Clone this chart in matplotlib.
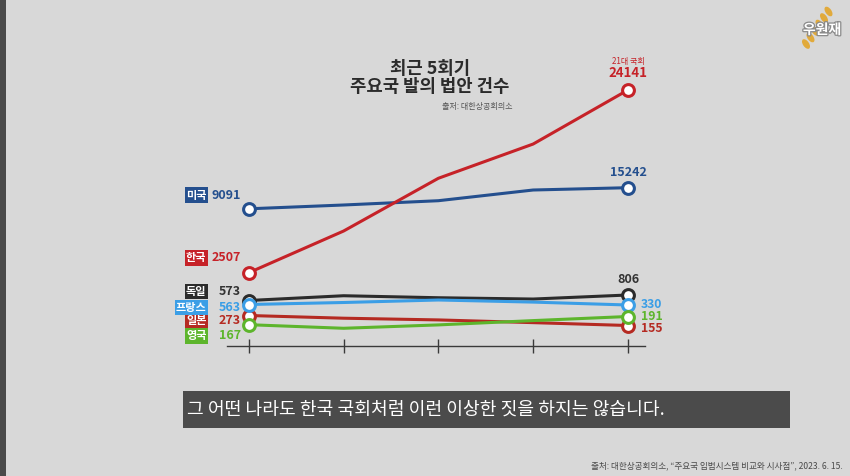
import numpy as np
import matplotlib
matplotlib.use("Agg")
import matplotlib.pyplot as plt
from matplotlib.patches import Rectangle, Ellipse
import matplotlib.patheffects as pe

plt.rcParams['font.family'] = ['Noto Sans CJK KR', 'DejaVu Sans']

# 최근 5회기 (x축: 회기 순서)
sessions = [0, 1, 2, 3, 4]

countries = ['미국', '한국', '독일', '일본', '프랑스', '영국']
us = [9091, 10200, 11450, 14570, 15242]
korea = [2507, 6800, 16100, 19220, 24141]
germany = [573, 775, 690, 635, 806]
japan = [273, 186, 181, 173, 155]
france = [563, 568, 594, 569, 330]
uk = [167, 134, 164, 179, 191]

# 원본 인포그래픽은 비례척이 아님 -> 구간별 선형 눈금
scale_vals = [0, 155, 167, 191, 273, 330, 563, 573, 806, 2507, 9091, 15242, 24141, 32000]
scale_h = [0, 20.5, 21.3, 29.5, 30.5, 41, 41.5, 45.5, 51, 73.3, 137.2, 158.3, 256, 342]


def fwd(v):
    return np.interp(v, scale_vals, scale_h)


def inv(h):
    return np.interp(h, scale_h, scale_vals)


series = {'미국': us, '한국': korea, '독일': germany, '일본': japan, '프랑스': france, '영국': uk}
colors = {'미국': '#244f8e', '한국': '#c62228', '독일': '#2b2b2b',
          '일본': '#b52a22', '프랑스': '#3b9ee6', '영국': '#5db52c'}
# 왼쪽 라벨 세로 위치 (pt)
left_dy = {'미국': 9.9, '한국': 10.6, '독일': 6.5, '프랑스': -2.0, '일본': -3.6, '영국': -8.1}
num_colors = {'미국': '#244f8e', '한국': '#c62228', '독일': '#333333',
              '일본': '#b52a22', '프랑스': '#3b9ee6', '영국': '#5db52c'}

fig = plt.figure(figsize=(8.5, 4.76), dpi=100)
fig.patch.set_facecolor('#d8d8d8')

# 배경 장식용 축 (픽셀 좌표)
deco = fig.add_axes([0, 0, 1, 1], zorder=0)
deco.set_xlim(0, 850)
deco.set_ylim(476, 0)
deco.axis('off')
deco.add_patch(Rectangle((0, 0), 6, 476, fc='#4a4a4a', ec='none'))
deco.add_patch(Rectangle((183, 391), 607, 37, fc='#4b4b4b', ec='none'))
deco.text(426, 410, '그 어떤 나라도 한국 국회처럼 이런 이상한 짓을 하지는 않습니다.',
          ha='center', va='center', color='white', fontsize=13.1)
deco.text(843, 466, '출처: 대한상공회의소, “주요국 입법시스템 비교와 시사점”, 2023. 6. 15.',
          ha='right', va='center', color='#4a4a4a', fontsize=6.2)
# 로고
for k in range(6):
    deco.add_patch(Ellipse((806 + k * 4.5, 44 - k * 6.5), 6, 11, angle=-35,
                           fc='#e3a52a', ec='none', alpha=0.9))
deco.text(822, 30, '우원재', ha='center', va='center', color='white', fontsize=10,
          weight='bold', path_effects=[pe.withStroke(linewidth=1.8, foreground='#8a8a8a')])

# 제목
fig.text(430 / 850, 1 - 69 / 476, '최근 5회기', ha='center', va='center',
         fontsize=12.8, weight='bold', color='#2b2b2b')
fig.text(430 / 850, 1 - 87 / 476, '주요국 발의 법안 건수', ha='center', va='center',
         fontsize=12.8, weight='bold', color='#2b2b2b')
fig.text(513 / 850, 1 - 107 / 476, '출처: 대한상공회의소', ha='right', va='center',
         fontsize=5.8, color='#555555')

ax = fig.add_axes([227 / 850, 130 / 476, 418 / 850, 300 / 476], zorder=1)
ax.patch.set_alpha(0)
ax.set_yscale('function', functions=(fwd, inv))
ax.set_ylim(0, inv(300))
ax.set_xlim(-0.23, 4.18)
for s in ['top', 'left', 'right']:
    ax.spines[s].set_visible(False)
ax.spines['bottom'].set_color('#3a3a3a')
ax.spines['bottom'].set_linewidth(1.0)
ax.set_xticks(sessions)
ax.tick_params(axis='x', direction='inout', length=10, width=1, color='#3a3a3a', labelbottom=False)
ax.set_yticks([])
ax.minorticks_off()

order = ['독일', '일본', '프랑스', '영국', '미국', '한국']
for name in order:
    c = colors[name]
    ax.plot(sessions, series[name], color=c, lw=2.2, marker='o', markevery=[0, 4],
            ms=8.5, mfc='white', mec=c, mew=2.2, solid_capstyle='round', clip_on=False)

# 왼쪽 라벨
for name in countries:
    v0 = series[name][0]
    dy = left_dy[name]
    ax.annotate(str(v0), (sessions[0], v0), xytext=(-5.8, dy), textcoords='offset points',
                ha='right', va='center', fontsize=9, weight='bold', color=num_colors[name])
    ax.annotate(name, (sessions[0], v0), xytext=(-30.5, dy), textcoords='offset points',
                ha='right', va='center', fontsize=8, weight='bold', color='white',
                bbox=dict(boxstyle='square,pad=0.1', fc=colors[name], ec='none'))

# 오른쪽 라벨
ax.annotate(str(germany[-1]), (sessions[-1], germany[-1]), xytext=(0, 11.5), textcoords='offset points',
            ha='center', va='center', fontsize=9, weight='bold', color='#333333')
ax.annotate(str(us[-1]), (sessions[-1], us[-1]), xytext=(0, 11.3), textcoords='offset points',
            ha='center', va='center', fontsize=9, weight='bold', color=colors['미국'])
ax.annotate(str(korea[-1]), (sessions[-1], korea[-1]), xytext=(0, 12.2), textcoords='offset points',
            ha='center', va='center', fontsize=9.5, weight='bold', color=colors['한국'])
ax.annotate('21대 국회', (sessions[-1], korea[-1]), xytext=(0, 20.5), textcoords='offset points',
            ha='center', va='center', fontsize=5.8, color=colors['한국'])
for name, dy in [('프랑스', 0.6), ('영국', -0.2), ('일본', -2.3)]:
    v = series[name][-1]
    ax.annotate(str(v), (sessions[-1], v), xytext=(9.4, dy), textcoords='offset points',
                ha='left', va='center', fontsize=8.8, weight='bold', color=num_colors[name])

fig.savefig('out.png', dpi=100, facecolor=fig.get_facecolor())
